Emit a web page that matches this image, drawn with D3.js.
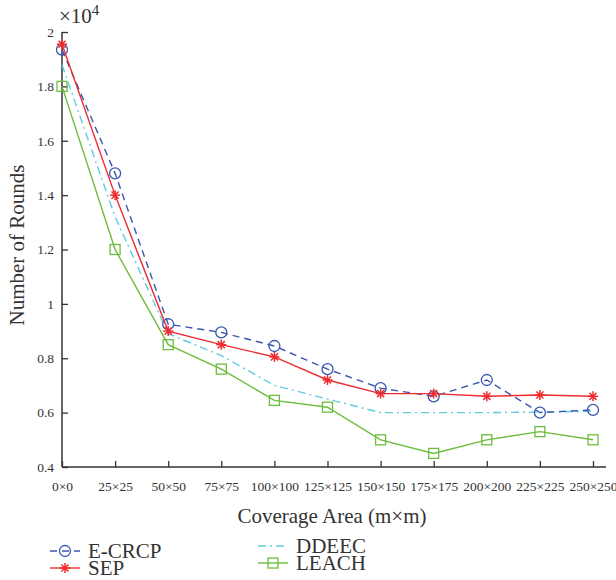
<!DOCTYPE html>
<html>
<head>
<meta charset="utf-8">
<script src="https://cdn.jsdelivr.net/npm/d3@7"></script>
<style>
  body { margin: 0; background: #fff; }
  svg text { font-family: "Liberation Serif", "DejaVu Serif", serif; fill: #333; }
</style>
</head>
<body>
<svg id="chart" width="616" height="580"></svg>
<script>
var categories = ["0×0", "25×25", "50×50", "75×75", "100×100", "125×125", "150×150", "175×175", "200×200", "225×225", "250×250"];
var ecrcp = [1.935, 1.48, 0.925, 0.895, 0.845, 0.76, 0.69, 0.66, 0.72, 0.60, 0.61];
var sep   = [1.955, 1.40, 0.90, 0.85, 0.805, 0.72, 0.67, 0.67, 0.66, 0.665, 0.66];
var ddeec = [1.88, 1.32, 0.89, 0.81, 0.70, 0.65, 0.60, 0.60, 0.60, 0.602, 0.605];
var leach = [1.80, 1.20, 0.85, 0.76, 0.645, 0.62, 0.50, 0.45, 0.50, 0.53, 0.50];
var yTicks = [0.4, 0.6, 0.8, 1, 1.2, 1.4, 1.6, 1.8, 2];

var series = [
    {name: "E-CRCP", values: ecrcp, color: "#3a56b0", dash: "7,5", marker: "circle"},
    {name: "SEP", values: sep, color: "#ee2b2f", dash: null, marker: "star"},
    {name: "DDEEC", values: ddeec, color: "#62cbe0", dash: "8,4,2,4", marker: null},
    {name: "LEACH", values: leach, color: "#6cbd3c", dash: null, marker: "square"}
];

var svg = d3.select("#chart");
var plotLeft = 62, plotRight = 593, plotTop = 32, plotBottom = 467;

var x = d3.scalePoint().domain(categories).range([plotLeft, plotRight]);
var y = d3.scaleLinear().domain([0.4, 2]).range([plotBottom, plotTop]);

// axes, ticks pointing inward
var yAxis = svg.append("g").attr("transform", "translate(" + plotLeft + ",0)")
    .call(d3.axisLeft(y).tickValues(yTicks).tickSize(-6).tickPadding(8)
        .tickFormat(function (d) { return d3.format("")(d); }));
var xAxis = svg.append("g").attr("transform", "translate(0," + plotBottom + ")")
    .call(d3.axisBottom(x).tickSize(-6).tickPadding(14));

[yAxis, xAxis].forEach(function (a) {
    a.select(".domain").remove();
    a.selectAll("line").attr("stroke", "#333").attr("stroke-width", 1.3);
    a.selectAll("text").style("font-size", "13.5px").attr("fill", "#333");
});
svg.append("line").attr("x1", plotLeft).attr("x2", plotLeft).attr("y1", plotTop).attr("y2", plotBottom)
    .attr("stroke", "#333").attr("stroke-width", 1.5);
svg.append("line").attr("x1", plotLeft).attr("x2", 606).attr("y1", plotBottom).attr("y2", plotBottom)
    .attr("stroke", "#333").attr("stroke-width", 1.5);

// exponent label
var ex = svg.append("text").attr("x", 59).attr("y", 23).style("font-size", "21px");
ex.append("tspan").text("×10");
ex.append("tspan").attr("dy", -8).style("font-size", "15px").text("4");

svg.append("text").attr("x", 332).attr("y", 523).attr("text-anchor", "middle")
    .style("font-size", "21px").text("Coverage Area (m×m)");
svg.append("text").attr("transform", "translate(24,245) rotate(-90)")
    .attr("text-anchor", "middle").style("font-size", "21px").text("Number of Rounds");

function drawMarker(g, type, cx, cy, color) {
    if (type === "circle") {
        g.append("circle").attr("cx", cx).attr("cy", cy).attr("r", 5.5)
            .attr("fill", "none").attr("stroke", color).attr("stroke-width", 1.3);
    } else if (type === "square") {
        g.append("rect").attr("x", cx - 5).attr("y", cy - 5).attr("width", 10).attr("height", 10)
            .attr("fill", "none").attr("stroke", color).attr("stroke-width", 1.3);
    } else if (type === "star") {
        var r = 5;
        [0, 45, 90, 135].forEach(function (a) {
            var t = a * Math.PI / 180;
            g.append("line")
                .attr("x1", cx - r * Math.cos(t)).attr("y1", cy - r * Math.sin(t))
                .attr("x2", cx + r * Math.cos(t)).attr("y2", cy + r * Math.sin(t))
                .attr("stroke", color).attr("stroke-width", 1.5);
        });
    }
}

var line = d3.line()
    .x(function (d, i) { return x(categories[i]); })
    .y(function (d) { return y(d); });

var drawOrder = [series[2], series[3], series[0], series[1]];
drawOrder.forEach(function (s) {
    var g = svg.append("g");
    g.append("path").attr("d", line(s.values)).attr("fill", "none")
        .attr("stroke", s.color).attr("stroke-width", 1.4)
        .attr("stroke-dasharray", s.dash);
    if (s.marker) {
        s.values.forEach(function (v, i) {
            drawMarker(g, s.marker, x(categories[i]), y(v), s.color);
        });
    }
});

// legend
var legendPos = [
    {x: 50, y: 551}, {x: 50, y: 568}, {x: 258, y: 546}, {x: 258, y: 563}
];
series.forEach(function (s, i) {
    var p = legendPos[i];
    var g = svg.append("g");
    g.append("line").attr("x1", p.x).attr("x2", p.x + 30).attr("y1", p.y).attr("y2", p.y)
        .attr("stroke", s.color).attr("stroke-width", 1.4).attr("stroke-dasharray", s.dash);
    if (s.marker) drawMarker(g, s.marker, p.x + 15, p.y, s.color);
    g.append("text").attr("x", p.x + 38).attr("y", p.y + 7).style("font-size", "21px").text(s.name);
});
</script>
</body>
</html>
